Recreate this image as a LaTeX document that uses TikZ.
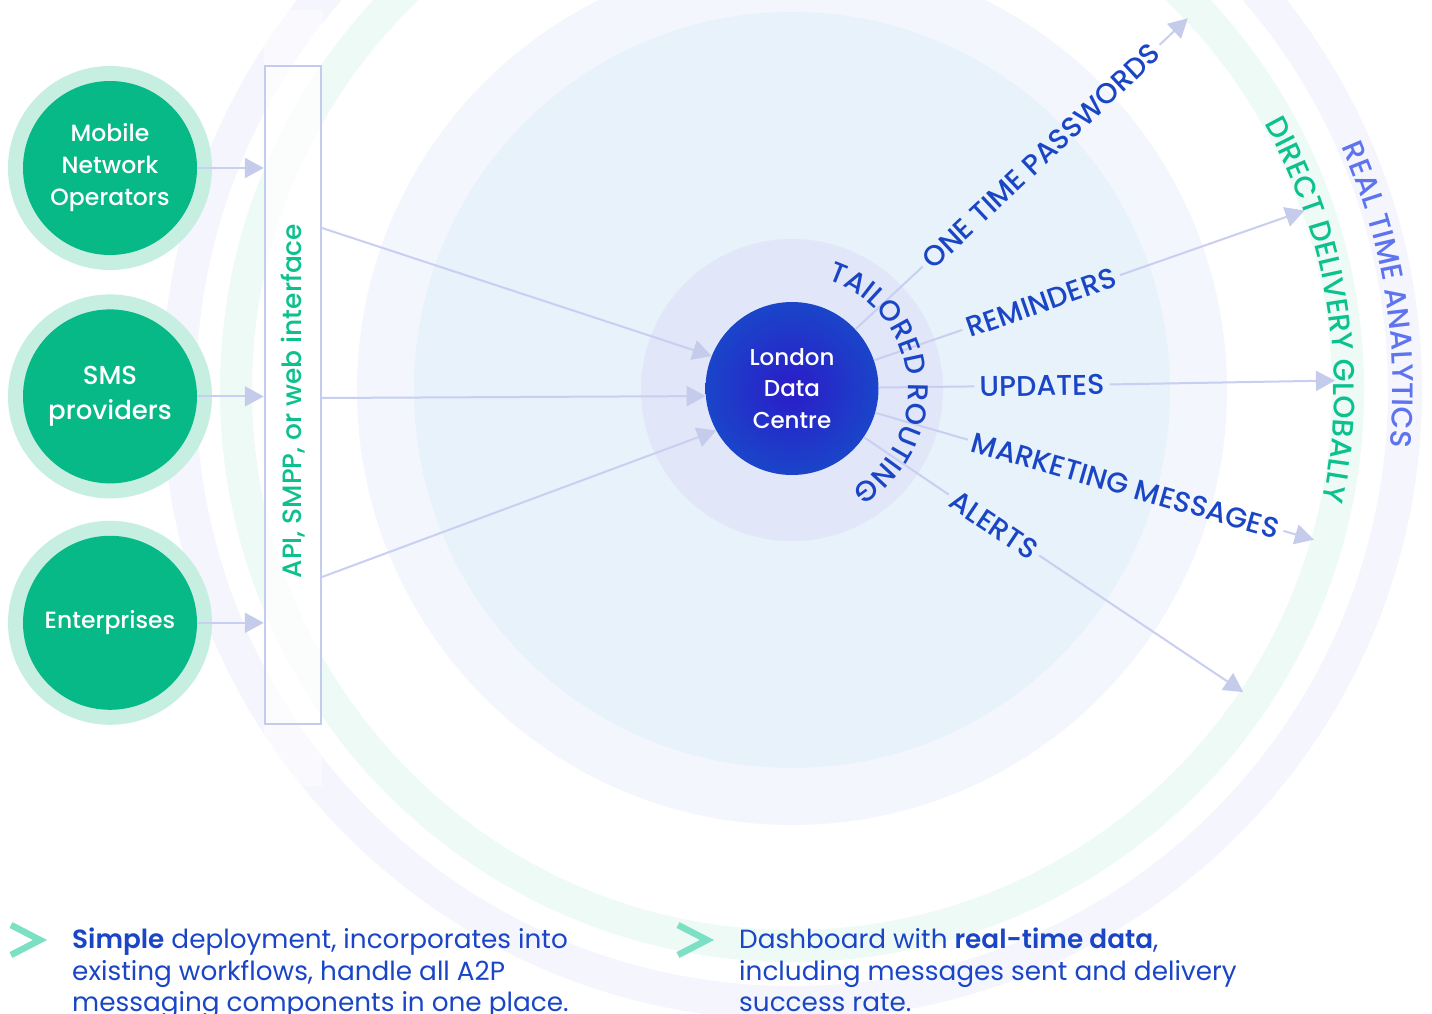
\documentclass[tikz,border=0pt]{standalone}
\usepackage{fontspec}
\setmainfont{Poppins}
\newfontfamily\medfont{Poppins}[UprightFont=* Medium]
\newfontfamily\semifont{Poppins}[UprightFont=* SemiBold]
\usetikzlibrary{arrows.meta, positioning, calc, decorations.text}

\definecolor{srcgreen}{HTML}{07B987}
\definecolor{srcring}{HTML}{C6EFE2}
\definecolor{ldcinner}{HTML}{2B1CC8}
\definecolor{ldcouter}{HTML}{1A45C9}
\definecolor{halo}{HTML}{E1E6F8}
\definecolor{innerdisc}{HTML}{E8F2FA}
\definecolor{outerdisc}{HTML}{F3F6FD}
\definecolor{deliveryring}{HTML}{EEFAF5}
\definecolor{analyticsring}{HTML}{F4F5FD}
\definecolor{feedline}{HTML}{C8CFF1}
\definecolor{tipfill}{HTML}{C4CBEB}
\definecolor{boxline}{HTML}{C3CBEF}
\definecolor{navy}{HTML}{1A46C6}
\definecolor{apigreen}{HTML}{0CC18D}
\definecolor{analytics}{HTML}{5E74EE}
\definecolor{chevron}{HTML}{7CE1C4}

\newcommand\srcfont{\medfont\fontsize{23.5}{32}\selectfont}
\newcommand\smsfont{\medfont\fontsize{26}{35}\selectfont}
\newcommand\ldcfont{\medfont\fontsize{23}{31.5}\selectfont}
\newcommand\lblfont{\medfont\fontsize{28.5}{32}\selectfont}
\newcommand\ringfont{\medfont\fontsize{29.5}{32}\selectfont}
\newcommand\apifont{\medfont\fontsize{26.5}{30}\selectfont}
\newcommand\bulletfont{\fontsize{26.3}{31.5}\selectfont}

\tikzset{
  src/.style={circle, fill=srcgreen, minimum size=174pt, inner sep=0pt,
    text=white, align=center, font=\srcfont,
    preaction={draw=srcring, line width=30pt}},
  feed/.style={draw=feedline, line width=2pt,
    -{Triangle[length=19pt,width=20pt,color=tipfill]}},
  ray/.style={draw=feedline, line width=2pt},
  lbl/.style={text=navy, font=\lblfont, inner sep=5pt},
  bullet/.style={text=navy, font=\bulletfont, align=left, inner sep=0pt, anchor=north west},
  chev/.style={draw=chevron, line width=6.5pt, miter limit=10}
}

\begin{document}
\begin{tikzpicture}[x=1pt,y=1pt]
\clip (0,0) rectangle (1432,-1014);
\fill[white] (0,0) rectangle (1432,-1014);

% background rings and discs
\coordinate (hub) at (792,-390);
\draw[analyticsring, line width=34pt] (hub) circle (613pt);
\draw[deliveryring, line width=32pt] (hub) circle (556pt);
\fill[outerdisc] (hub) circle (435pt);
\fill[innerdisc] (hub) circle (378pt);
\fill[halo] (hub) circle (151pt);

% interface column
\fill[white, opacity=0.55] (264,-10) rectangle (322,-786);
\node[draw=boxline, line width=2.5pt, fill=white, fill opacity=0.4,
  minimum width=56pt, minimum height=658pt, inner sep=0pt] (api) at (293,-395) {};
\node[rotate=90, text=apigreen, font=\apifont] (apitxt) at (293,-401) {API, SMPP, or web interface};

% sources
\node[src] (mno) at (110,-168) {Mobile\\Network\\Operators};
\node[src, font=\smsfont, below=54pt of mno] (sms) {SMS\\providers};
\node[src, below=52pt of sms] (ent) {Enterprises};

\draw[feed] (mno.east) -- (mno.east -| api.west);
\draw[feed] (sms.east) -- (sms.east -| api.west);
\draw[feed] (ent.east) -- (ent.east -| api.west);

% data centre
\node[circle, minimum size=173pt, inner sep=0pt, inner color=ldcinner, outer color=ldcouter,
  text=white, align=center, font=\ldcfont, yshift=1.5pt] (ldc) at (hub) {London\\Data\\Centre};

\coordinate (in-a) at (322,-228);
\coordinate (in-b) at (322,-398);
\coordinate (in-c) at (322,-577);
\draw[feed] (in-a) -- (ldc.158);
\draw[feed] (in-b) -- (ldc.185);
\draw[feed] (in-c) -- (ldc.209);

% message types
\foreach \name/\ang/\dist/\txt in {otp/43.2/342/ONE TIME PASSWORDS, rem/19.3/264/REMINDERS,
    upd/1/250/UPDATES, mkt/-16/347/MARKETING MESSAGES, alr/-33.8/243/ALERTS} {
  \node[lbl, rotate=\ang] (\name) at ($(hub)+(\ang:\dist)$) {\txt};
  \coordinate (\name-tip) at ($(hub)+(\ang:543)$);
}

\begin{scope}
  \clip (0,0) rectangle (1432,-1014)
    ($(hub)+(143,0)$) arc[start angle=0, end angle=360, radius=143pt] -- cycle
    ($(hub)+(114,0)$) arc[start angle=0, end angle=-360, radius=114pt] -- cycle;
  \foreach \name in {otp,rem,upd,mkt,alr}
    \draw[ray] (ldc) -- (\name);
\end{scope}
\foreach \name in {otp,rem,upd,mkt,alr}
  \draw[ray, -{Triangle[length=19pt,width=20pt,color=tipfill]}] (\name) -- (\name-tip);

% curved captions
\path[decorate, decoration={text along path, text align=center, text color=navy,
  text={|\lblfont|TAILORED ROUTING}}]
  ($(hub)+(76:116)$) arc (76:-63:116pt);
\path[decorate, decoration={text along path, text align=center, text color=apigreen,
  text={|\ringfont|DIRECT DELIVERY GLOBALLY}}]
  ($(hub)+(38.8:542)$) arc (38.8:-21.2:542pt);
\path[decorate, decoration={text along path, text align=center, text color=analytics,
  text={|\ringfont|REAL TIME ANALYTICS}}]
  ($(hub)+(34.2:601)$) arc (34.2:-15.8:601pt);

% notes
\draw[chev] (11,-925) -- (40,-940) -- (11,-955);
\node[bullet] (note-a) at (72,-928) {{\semifont Simple} deployment, incorporates into\\existing workflows, handle all A2P\\messaging components in one place.};
\draw[chev] (678,-925) -- (707,-940) -- (678,-955);
\node[bullet] (note-b) at (739,-928) {Dashboard with {\semifont real-time data},\\including messages sent and delivery\\success rate.};
\end{tikzpicture}
\end{document}
